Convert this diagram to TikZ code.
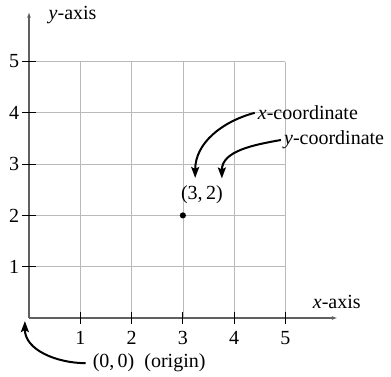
\documentclass[tikz,border=0pt]{standalone}
\usepackage{fontspec}
\setmainfont{Liberation Serif}
\usetikzlibrary{positioning}
\usetikzlibrary{arrows.meta}
\tikzset{
  gridline/.style={gray!55, line width=0.7pt},
  axisline/.style={gray!75!black, line width=1.4pt, -{Latex[length=6pt,width=4pt]}},
  tickmark/.style={black, line width=0.9pt},
  note/.style={black, line width=2pt, -{Stealth[length=11pt,width=8pt,inset=2pt]}},
  lbl/.style={font=\fontsize{20}{22}\selectfont, inner sep=1pt}
}
\begin{document}
\begin{tikzpicture}[x=51.3pt, y=51.3pt]
\useasboundingbox (-0.565,-1.15) rectangle (7.057,6.199);
% grid 0..5
\foreach \k in {1,...,5} {
    \draw[gridline] (\k,0) -- (\k,5);
    \draw[gridline] (0,\k) -- (5,\k);
}
% axes
\draw[axisline] (0,0) -- (6.02,0);
\draw[axisline] (0,0) -- (0,5.97);
% ticks and numbers
\foreach \k in {1,...,5} {
    \draw[tickmark] (\k,-0.12) -- (\k,0.12);
    \draw[tickmark] (-0.13,\k) -- (0.13,\k);
    \node[lbl] (xn\k) at (\k,-0.39) {\k};
    \node[lbl] (yn\k) at (-0.29,\k) {\k};
}

% Labels
\node[lbl] (xaxis) at (6.0,0.31) {\textit{x}-axis};
\node[lbl] (yaxis) at (0.85,5.9) {\textit{y}-axis};
\fill (3,2) circle (0.06);
\node[lbl] (pt) at (3.37,2.40) {(3,\,2)};
\node[lbl, anchor=west] (xc) at (4.44,4.0) {\textit{x}-coordinate};
\node[lbl, anchor=west] (yc) at (4.95,3.47) {\textit{y}-coordinate};
\node[lbl, anchor=west] (orig) at (1.22,-0.88) {(0,\,0)\ \ (origin)};
\coordinate (xtip) at (3.24,2.73);
\coordinate (ytip) at (3.76,2.72);
\coordinate (otip) at (-0.08,-0.06);
\draw[note] ([xshift=-2pt]xc.west) to[out=195, in=90] (xtip);
\draw[note] ([xshift=-2pt]yc.west) to[out=190, in=90] (ytip);
\draw[note] ([xshift=-6pt]orig.west) to[out=180, in=-90] (otip);
\end{tikzpicture}
\end{document}
